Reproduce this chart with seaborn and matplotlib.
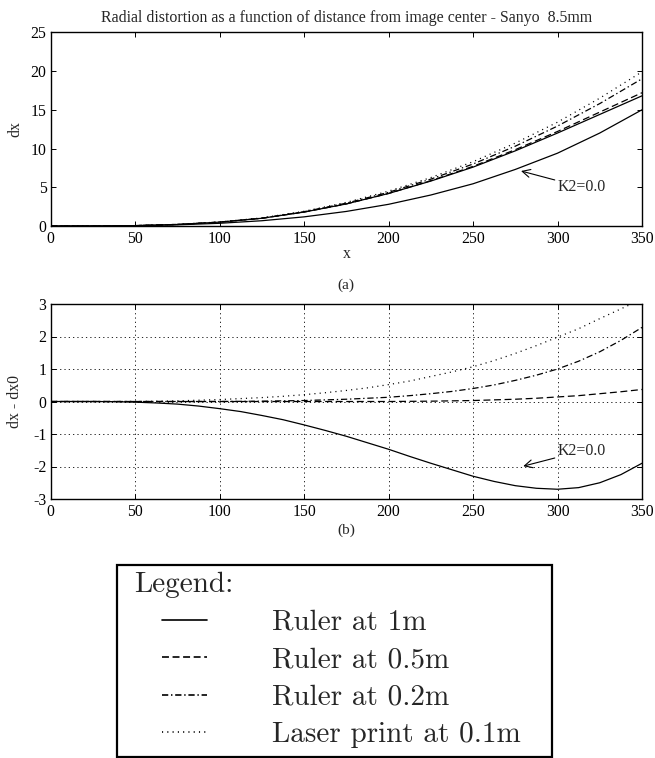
import matplotlib
matplotlib.use("Agg")
import matplotlib.pyplot as plt
import seaborn as sns
from matplotlib.patches import Rectangle
from matplotlib.lines import Line2D
from matplotlib.legend_handler import HandlerLine2D

# ---------------- data ----------------
# panel (a): dx
x_a = [0, 25, 50, 75, 100, 125, 150, 175, 200, 225, 250, 275, 300, 325, 350]
dx_k2_zero   = [0, 0.005, 0.04, 0.15, 0.35, 0.68, 1.18, 1.88, 2.80, 4.00, 5.45, 7.30, 9.40, 12.0, 15.0]
dx_ruler_1m  = [0, 0.005, 0.05, 0.20, 0.50, 1.00, 1.80, 2.85, 4.20, 5.80, 7.60, 9.70, 12.0, 14.4, 16.8]
dx_ruler_05m = [0, 0.005, 0.05, 0.20, 0.50, 1.00, 1.80, 2.85, 4.20, 5.85, 7.70, 9.85, 12.2, 14.7, 17.2]
dx_ruler_02m = [0, 0.005, 0.05, 0.20, 0.50, 1.00, 1.85, 2.95, 4.35, 6.05, 8.00, 10.3, 12.9, 15.8, 19.0]
dx_laser_01m = [0, 0.005, 0.05, 0.20, 0.52, 1.05, 1.90, 3.05, 4.50, 6.25, 8.30, 10.7, 13.4, 16.5, 19.9]

# panel (b): dx - dx0
x_b = [0, 12.5, 25, 37.5, 50, 62.5, 75, 87.5, 100, 112.5, 125, 137.5, 150, 162.5, 175,
       187.5, 200, 212.5, 225, 237.5, 250, 262.5, 275, 287.5, 300, 312.5, 325, 337.5, 350]
dd_ruler_1m  = [0, 0, 0, -0.005, -0.02, -0.045, -0.08, -0.14, -0.22, -0.31, -0.43, -0.56, -0.72, -0.89, -1.07,
                -1.27, -1.47, -1.69, -1.90, -2.10, -2.30, -2.46, -2.59, -2.67, -2.70, -2.65, -2.50, -2.25, -1.90]
dd_ruler_05m = [0, 0, 0, 0, 0, 0, 0, 0, 0, 0, 0, 0, 0, 0, 0,
                0, 0, 0.005, 0.01, 0.02, 0.03, 0.05, 0.07, 0.10, 0.14, 0.18, 0.24, 0.30, 0.37]
dd_ruler_02m = [0, 0, 0, 0, 0, 0, 0, 0, 0, 0.005, 0.01, 0.02, 0.03, 0.05, 0.07,
                0.10, 0.13, 0.18, 0.24, 0.31, 0.40, 0.51, 0.65, 0.81, 1.00, 1.24, 1.53, 1.88, 2.28]
dd_laser_01m = [0, 0, 0, 0, 0, 0.01, 0.02, 0.04, 0.06, 0.09, 0.12, 0.16, 0.21, 0.27, 0.34,
                0.42, 0.52, 0.63, 0.77, 0.91, 1.07, 1.26, 1.48, 1.72, 1.98, 2.24, 2.55, 2.85, 3.15]

legend_labels = ["Ruler at 1m", "Ruler at 0.5m", "Ruler at 0.2m", "Laser print at 0.1m"]
x_ticks = [0, 50, 100, 150, 200, 250, 300, 350]
y_ticks_a = [0, 5, 10, 15, 20, 25]
y_ticks_b = [-3, -2, -1, 0, 1, 2, 3]

title_text = "Radial distortion as a function of distance from image center - Sanyo  8.5mm"

# ---------------- style ----------------
sns.set_style("ticks")
plt.rcParams['font.family'] = ['Liberation Serif', 'DejaVu Serif']
plt.rcParams.update({
    'xtick.direction': 'in', 'ytick.direction': 'in',
    'xtick.top': True, 'ytick.right': True,
    'xtick.major.size': 3.6, 'ytick.major.size': 3.6,
    'xtick.major.width': 0.7, 'ytick.major.width': 0.7,
    'xtick.major.pad': 3.5, 'ytick.major.pad': 3,
    'axes.linewidth': 1.0, 'axes.edgecolor': 'black',
    'xtick.color': 'black', 'ytick.color': 'black',
    'xtick.labelsize': 11.3, 'ytick.labelsize': 11.3,
    'axes.labelsize': 11.3, 'axes.unicode_minus': False,
    'lines.scale_dashes': False,
})

LS = {
    'solid': '-',
    'dashed': (0, (5, 2.6)),
    'dashdot': (0, (4.5, 2.0, 1.0, 2.0)),
    'dotted': (0, (0.8, 3.0)),
}
LW = 0.9

W, H = 655, 758
fig = plt.figure(figsize=(W / 100, H / 100), dpi=100)
L, R = 50.7, 642.0
ax1 = fig.add_axes([L / W, 1 - 226 / H, (R - L) / W, (226 - 32.3) / H])
ax2 = fig.add_axes([L / W, 1 - 499 / H, (R - L) / W, (499 - 304) / H])

# ---------------- panel (a) ----------------
sns.lineplot(x=x_a, y=dx_k2_zero, ax=ax1, color='k', lw=LW, linestyle=LS['solid'])
series_a = [(dx_ruler_1m, 'solid'), (dx_ruler_05m, 'dashed'),
            (dx_ruler_02m, 'dashdot'), (dx_laser_01m, 'dotted')]
for (vals, st), lab in zip(series_a, legend_labels):
    sns.lineplot(x=x_a, y=vals, ax=ax1, color='k', lw=LW, linestyle=LS[st], label=lab)

ax1.set_xlim(0, 350)
ax1.set_ylim(0, 25)
ax1.set_xticks(x_ticks)
ax1.set_yticks(y_ticks_a)
ax1.set_title(title_text, fontsize=11.4, pad=7.5)
ax1.set_xlabel('x')
ax1.set_ylabel('dx')
ax1.xaxis.set_label_coords(0.5, -0.105)
ax1.yaxis.set_label_coords(-0.047, 0.5)
ax1.text(0.5, -0.305, '(a)', transform=ax1.transAxes, ha='center', va='center', fontsize=11)
ax1.annotate('K2=0.0', xy=(278.4, 7.1), xytext=(300.3, 5.0), ha='left', va='center',
             fontsize=11.4,
             arrowprops=dict(arrowstyle='->,head_length=0.5,head_width=0.25', color='k',
                             lw=0.8, shrinkA=0, shrinkB=0))

# ---------------- panel (b) ----------------
series_b = [(dd_ruler_1m, 'solid'), (dd_ruler_05m, 'dashed'),
            (dd_ruler_02m, 'dashdot'), (dd_laser_01m, 'dotted')]
for vals, st in series_b:
    sns.lineplot(x=x_b, y=vals, ax=ax2, color='k', lw=LW, linestyle=LS[st])

ax2.set_xlim(0, 350)
ax2.set_ylim(-3, 3)
ax2.set_xticks(x_ticks)
ax2.set_yticks(y_ticks_b)
ax2.grid(True, color='k', linestyle=(0, (0.9, 2.2)), lw=0.6)
ax2.set_axisbelow(True)
ax2.set_xlabel('')
ax2.set_ylabel('dx - dx0')
ax2.yaxis.set_label_coords(-0.047, 0.5)
ax2.text(0.5, -0.159, '(b)', transform=ax2.transAxes, ha='center', va='center', fontsize=11)
ax2.annotate('K2=0.0', xy=(279.7, -1.99), xytext=(300.3, -1.52), ha='left', va='center',
             fontsize=11.4,
             arrowprops=dict(arrowstyle='->,head_length=0.5,head_width=0.25', color='k',
                             lw=0.8, shrinkA=0, shrinkB=0))

# remove any automatic axes legends
for a in (ax1, ax2):
    if a.get_legend() is not None:
        a.get_legend().remove()

# ---------------- legend box ----------------
handles = [l for l in ax1.get_lines() if l.get_label() in legend_labels]
cm_font = {'family': ['cmr10', 'DejaVu Serif'], 'size': 21}
leg = fig.legend(handles, legend_labels, loc='upper left',
                 bbox_to_anchor=(134 / W, 1 - 572 / H),
                 frameon=False, borderpad=0, borderaxespad=0,
                 prop=cm_font, title='Legend:', title_fontproperties=cm_font,
                 alignment='left', handlelength=2.5, handletextpad=2.23,
                 labelspacing=0.38,
                 handler_map={Line2D: HandlerLine2D(xpad=0.96)})
for lh in leg.get_lines():
    lh.set_linewidth(1.2)
fig.add_artist(Rectangle((117 / W, 1 / H), (552 - 117) / W, (757 - 565) / H,
                         transform=fig.transFigure, fill=False, ec='k', lw=1.6))

fig.savefig('out.png', dpi=100)
